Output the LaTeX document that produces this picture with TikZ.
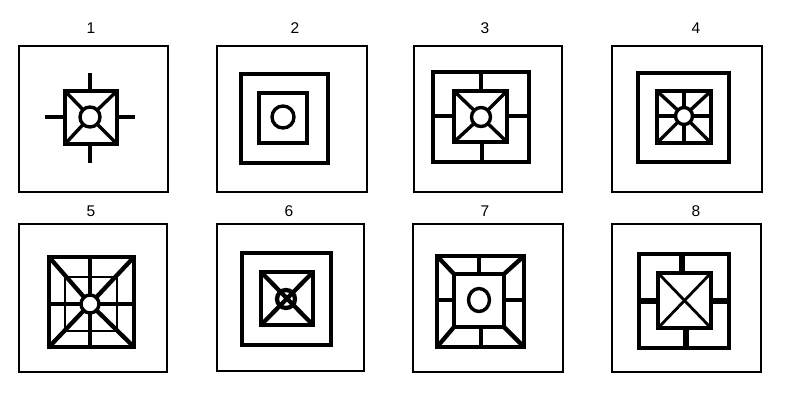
\documentclass[tikz,border=0pt]{standalone}
\usepackage{fontspec}
\setmainfont{Liberation Sans}
\usetikzlibrary{calc}
\tikzset{
  frame/.style={line width=1.5pt},
  fig/.style={line width=3.4pt, line join=miter},
  figthin/.style={line width=2.8pt},
  figthick/.style={line width=4.3pt},
  stub/.style={line width=4.8pt},
  lab/.style={font=\fontsize{15.5}{15.5}\selectfont, inner sep=0pt}
}
\begin{document}
\begin{tikzpicture}[x=1pt,y=-1pt]
\useasboundingbox (0,0) rectangle (800,400);
\fill[white] (0,0) rectangle (800,400);

% ---------- labels ----------
\node[lab] (l1) at (91,28) {1};
\node[lab] (l2) at (295,28) {2};
\node[lab] (l3) at (485,28) {3};
\node[lab] (l4) at (696,28) {4};
\node[lab] (l5) at (91,211) {5};
\node[lab] (l6) at (289,211) {6};
\node[lab] (l7) at (485,211) {7};
\node[lab] (l8) at (696,211) {8};

% ---------- frames ----------
\draw[frame] (19,46) rectangle (168,192);
\draw[frame] (217,46) rectangle (367,192);
\draw[frame] (414,46) rectangle (562,192);
\draw[frame] (612,46) rectangle (762,192);
\draw[frame] (19,224) rectangle (167,372);
\draw[frame] (217,224) rectangle (364,371);
\draw[frame] (413,224) rectangle (563,372);
\draw[frame] (612,224) rectangle (761,372);

% ---------- panel 1 ----------
\coordinate (c1) at (90,117);
\draw[fig] (65,91) rectangle (117,144);
\draw[fig] (c1) circle (10);
\foreach \px/\py in {65/91,117/91,65/144,117/144}
  \draw[fig] ($(c1)!10pt!(\px,\py)$) -- (\px,\py);
\draw[stub] (90,73) -- (90,91);
\draw[stub] (90,144) -- (90,163);
\draw[stub] (45,117) -- (65,117);
\draw[stub] (117,117) -- (135,117);

% ---------- panel 2 ----------
\draw[fig] (241,74) rectangle (328,163);
\draw[fig] (259,93) rectangle (307,143);
\draw[fig] (283,117) circle (11);

% ---------- panel 3 ----------
\coordinate (c3) at (481,117);
\draw[fig] (433,72) rectangle (529,162);
\draw[fig] (454,91) rectangle (507,142);
\draw[fig] (c3) circle (9.5);
\foreach \px/\py in {454/91,507/91,454/142,507/142}
  \draw[fig] ($(c3)!9.5pt!(\px,\py)$) -- (\px,\py);
\draw[stub] (481,72) -- (481,91);
\draw[stub] (482,142) -- (482,162);
\draw[stub] (433,116) -- (454,116);
\draw[stub] (507,116) -- (529,116);

% ---------- panel 4 ----------
\coordinate (c4) at (684,116);
\draw[fig] (638,73) rectangle (729,162);
\draw[figthick] (657,91) rectangle (711,143);
\draw[fig] (c4) circle (8.5);
\foreach \px/\py in {657/91,711/91,657/143,711/143,684/91,684/143,657/116,711/116}
  \draw[fig] ($(c4)!8.5pt!(\px,\py)$) -- (\px,\py);

% ---------- panel 5 ----------
\coordinate (c5) at (90,304);
\draw[figthick] (49,257) rectangle (134,347);
\draw[figthin] (65,277) rectangle (117,331);
\draw[fig] (c5) circle (9);
\draw[fig] (90,257) -- ($(c5)!9pt!(90,257)$);
\draw[fig] (90,347) -- ($(c5)!9pt!(90,347)$);
\draw[figthick] (49,304) -- ($(c5)!9pt!(49,304)$);
\draw[figthick] (134,304) -- ($(c5)!9pt!(134,304)$);
\foreach \px/\py in {49/257,134/257,49/347,134/347}
  \draw[figthick] ($(c5)!9pt!(\px,\py)$) -- (\px,\py);

% ---------- panel 6 ----------
\draw[fig] (242,253) rectangle (331,345);
\draw[figthick] (261,272) rectangle (313,325);
\draw[figthick] (286,299) circle (9);
\draw[figthick] (261,272) -- (313,325);
\draw[figthick] (313,272) -- (261,325);

% ---------- panel 7 ----------
\draw[figthick] (437,256) rectangle (524,347);
\draw[fig] (454,274) rectangle (504,327);
\draw[fig] (479,300) ellipse (10.5 and 11.5);
\draw[figthick] (437,256) -- (454,274);
\draw[figthick] (524,256) -- (504,274);
\draw[figthick] (437,347) -- (454,327);
\draw[figthick] (524,347) -- (504,327);
\draw[stub] (479,256) -- (479,274);
\draw[stub] (481,327) -- (481,347);
\draw[stub] (437,300) -- (454,300);
\draw[stub] (504,300) -- (524,300);

% ---------- panel 8 ----------
\draw[figthick] (639,254) rectangle (729,348);
\draw[figthick] (658,273) rectangle (711,328);
\draw[figthin] (658,273) -- (711,328);
\draw[figthin] (711,273) -- (658,328);
\draw[line width=5.5pt] (682,254) -- (682,273);
\draw[line width=5.5pt] (686,328) -- (686,348);
\draw[line width=5.5pt] (639,301) -- (658,301);
\draw[line width=5.5pt] (711,301) -- (729,301);
\end{tikzpicture}
\end{document}
